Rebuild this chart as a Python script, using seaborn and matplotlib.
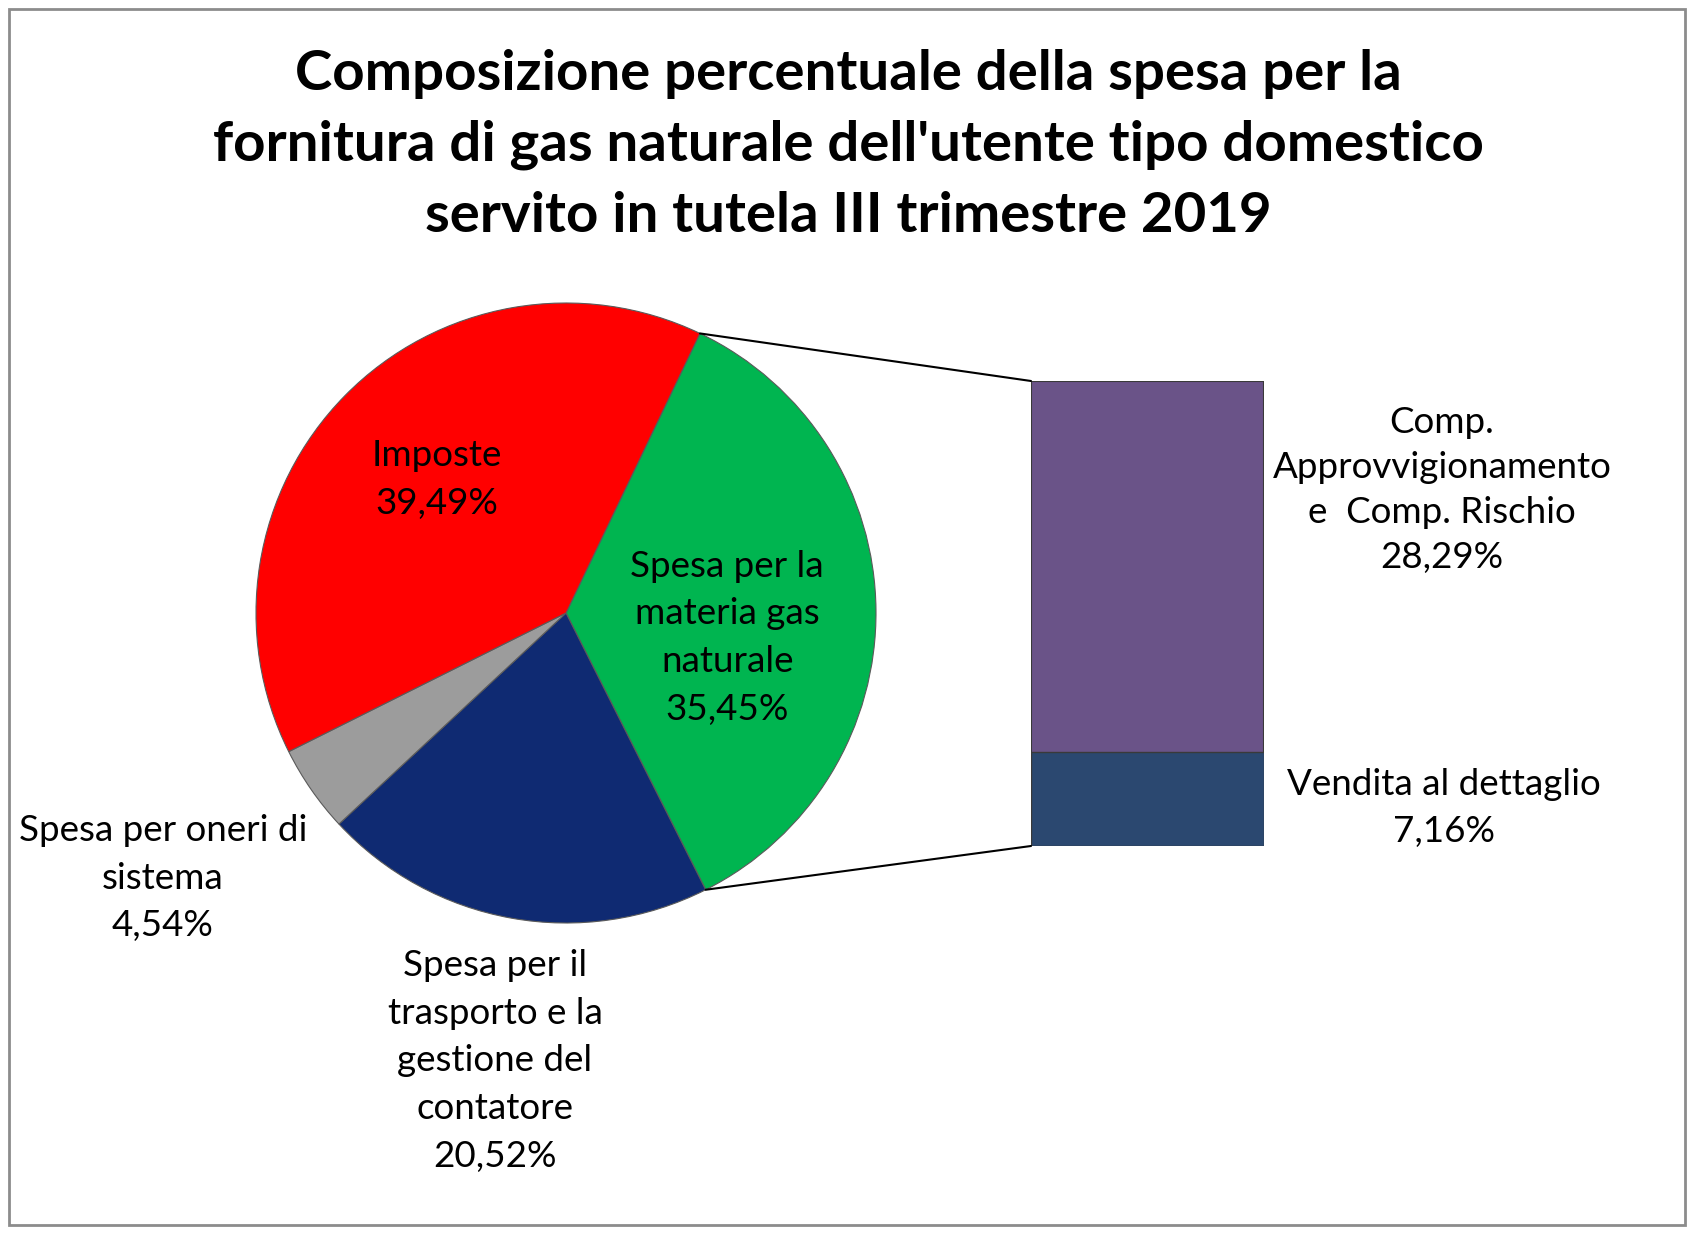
import numpy as np
import pandas as pd
import matplotlib.pyplot as plt
import seaborn as sns
from matplotlib.patches import ConnectionPatch, Rectangle

# pie shares (clockwise from the split with the bar)
pie_labels = ['Spesa per la\nmateria gas\nnaturale', 'Spesa per il\ntrasporto e la\ngestione del\ncontatore',
              'Spesa per oneri di\nsistema', 'Imposte']
pie_values = [35.45, 20.52, 4.54, 39.49]
pie_colors = ['#00B550', '#0F2A72', '#9C9C9C', '#FF0000']

# breakdown of the gas share
bar_labels = ['Comp.\nApprovvigionamento\ne  Comp. Rischio', 'Vendita al dettaglio']
bar_values = [28.29, 7.16]
bar_colors = ['#6A5388', '#2B4870']

title = ("Composizione percentuale della spesa per la\n"
         "fornitura di gas naturale dell'utente tipo domestico\n"
         "servito in tutela III trimestre 2019")

def fmt(v):
    return f'{v:.2f}'.replace('.', ',') + '%'

sns.set_theme(style='white')
plt.rcParams['font.family'] = ['Lato', 'DejaVu Sans']
plt.rcParams['text.color'] = 'black'

W, H = 1696, 1234
fig = plt.figure(figsize=(W / 100, H / 100), dpi=100)
fig.patch.set_facecolor('white')

# outer frame
fig.add_artist(Rectangle((9 / W, 9 / H), 1676 / W, 1216 / H, transform=fig.transFigure,
                         fill=False, edgecolor='#8c8c8c', linewidth=2))

fig.text(0.5, 1 - 145 / H, title, ha='center', va='center', fontsize=40.6, fontweight='bold',
         linespacing=1.5, color='black')

# pie
cx, cy, r = 566, 613, 310
ax_pie = fig.add_axes([(cx - r) / W, (H - cy - r) / H, 2 * r / W, 2 * r / H])
start = 64.4
ax_pie.pie(pie_values, colors=pie_colors, startangle=start, counterclock=False,
           wedgeprops=dict(edgecolor='#5a5a5a', linewidth=0.8))
ax_pie.set_xlim(-1, 1)
ax_pie.set_ylim(-1, 1)
ax_pie.axis('off')

fs = 26.5
lab_pos = [(0.52, -0.08), (-0.229, -1.445), (-1.30, -0.855), (-0.416, 0.432)]
for lab, v, (x, y) in zip(pie_labels, pie_values, lab_pos):
    ax_pie.text(x, y, lab + '\n' + fmt(v), ha='center', va='center', fontsize=fs,
                linespacing=1.55, clip_on=False)

# bar of the gas share (stacked: total first, lower segment over it)
bx0, bx1, by0, by1 = 1031, 1264, 381, 846
ax_bar = fig.add_axes([bx0 / W, (H - by1) / H, (bx1 - bx0) / W, (by1 - by0) / H])
total = sum(bar_values)
df_top = pd.DataFrame({'k': ['gas'], 'v': [total]})
df_low = pd.DataFrame({'k': ['gas'], 'v': [bar_values[1]]})
sns.barplot(data=df_top, x='k', y='v', color=bar_colors[0], saturation=1, width=0.8,
            edgecolor='#3a3a3a', linewidth=1.5, ax=ax_bar)
sns.barplot(data=df_low, x='k', y='v', color=bar_colors[1], saturation=1, width=0.8,
            edgecolor='#3a3a3a', linewidth=1.0, ax=ax_bar)
ax_bar.set_xlim(-0.4, 0.4)
ax_bar.set_ylim(0, total)
ax_bar.axis('off')

fig.text(1442 / W, 1 - 490 / H, bar_labels[0] + '\n' + fmt(bar_values[0]), ha='center', va='center',
         fontsize=fs, linespacing=1.45)
fig.text(1444 / W, 1 - 808 / H, bar_labels[1] + '\n' + fmt(bar_values[1]), ha='center', va='center',
         fontsize=fs, linespacing=1.55)

# connector lines from the gas wedge edges to the bar
a1 = np.deg2rad(start)
a2 = np.deg2rad(start - 360 * pie_values[0] / 100)
for ang, yb in [(a1, total), (a2, 0)]:
    con = ConnectionPatch(xyA=(np.cos(ang), np.sin(ang)), coordsA=ax_pie.transData,
                          xyB=(-0.4, yb), coordsB=ax_bar.transData, color='black', linewidth=1.5)
    fig.add_artist(con)

fig.savefig('out.png', dpi=100, facecolor='white')
